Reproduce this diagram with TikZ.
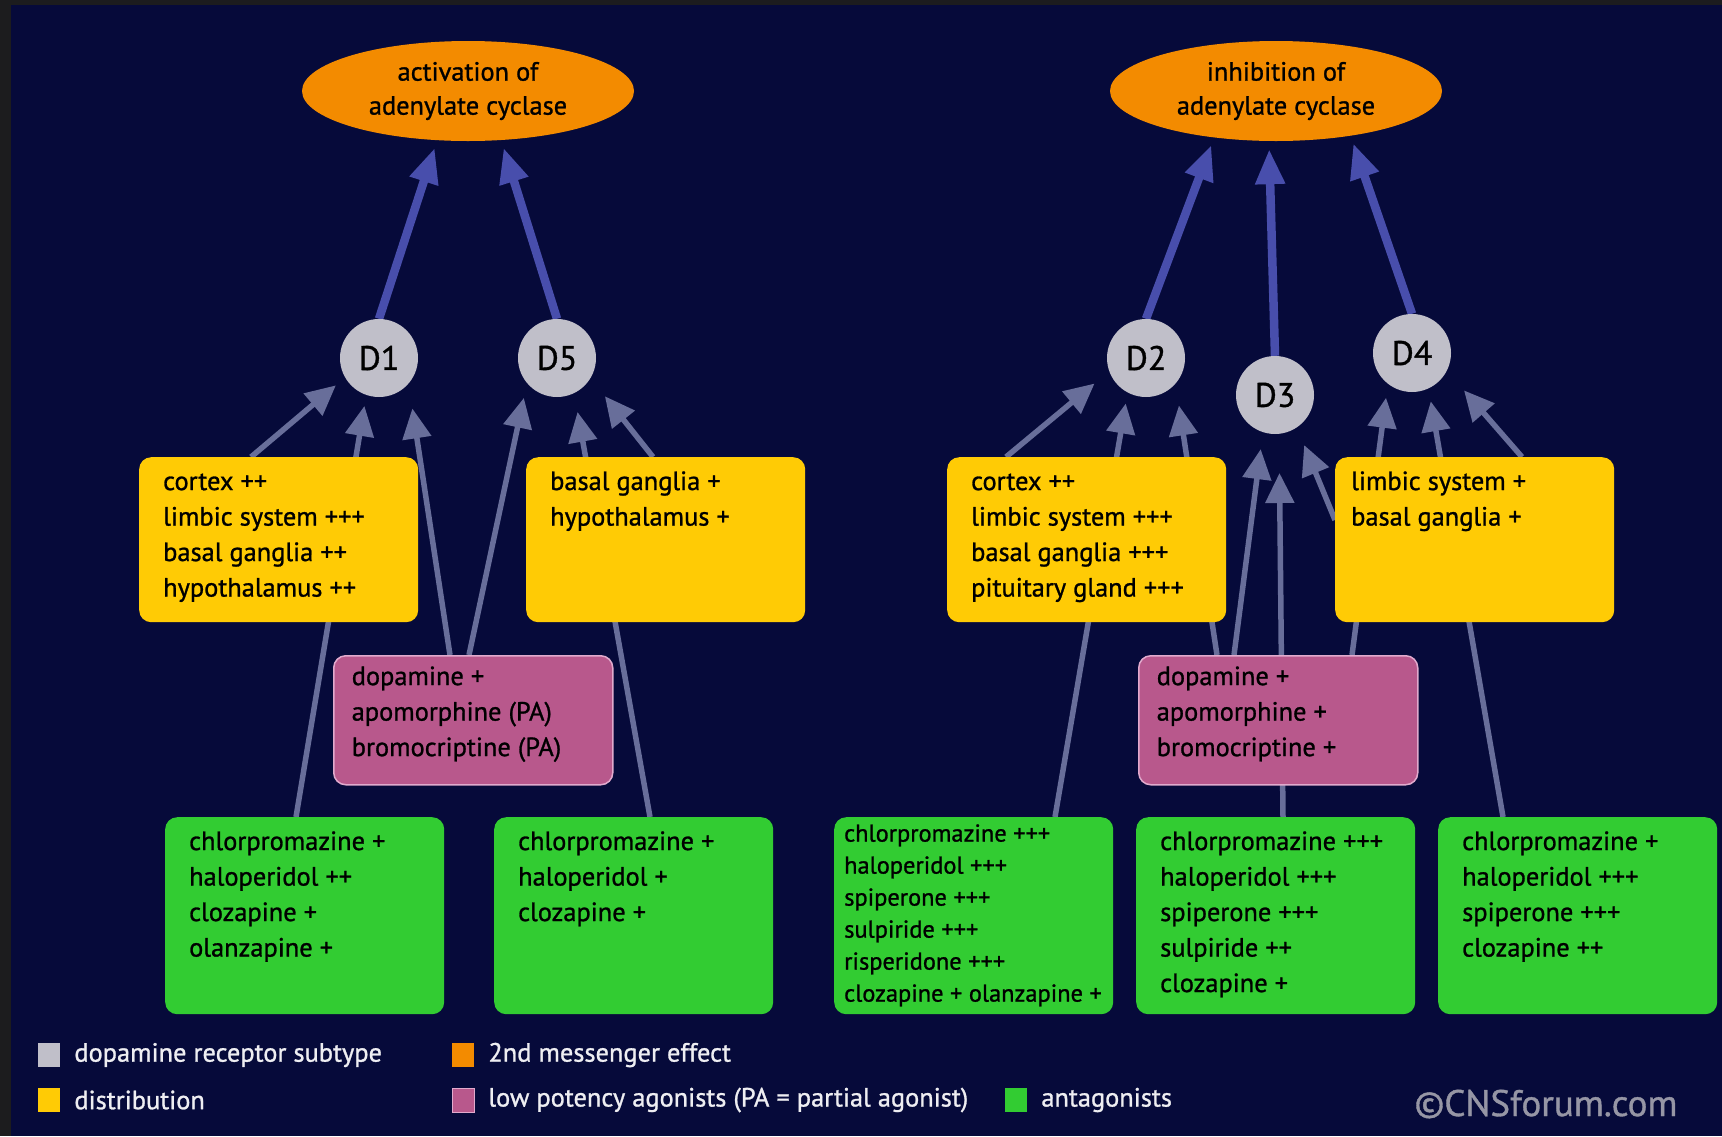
\documentclass[tikz,border=0pt]{standalone}
\usepackage{fontspec}
\setmainfont{PT Sans}[FakeBold=1]
\usetikzlibrary{arrows.meta,positioning,shapes.geometric,backgrounds}

\definecolor{framegray}{RGB}{28,28,30}
\definecolor{navybg}{RGB}{6,10,58}
\definecolor{effectorange}{RGB}{243,139,0}
\definecolor{receptorgray}{RGB}{192,191,201}
\definecolor{distyellow}{RGB}{255,203,5}
\definecolor{agonistpink}{RGB}{184,88,140}
\definecolor{agonistedge}{RGB}{225,170,205}
\definecolor{antagreen}{RGB}{50,204,50}
\definecolor{effectblue}{RGB}{72,78,172}
\definecolor{bindgray}{RGB}{104,110,154}
\definecolor{legendtext}{RGB}{238,238,242}
\definecolor{credgray}{RGB}{150,150,165}

\newcommand{\boxfont}{\fontsize{26.4}{35.5}\selectfont}
\newcommand{\densefont}{\fontsize{24.4}{32}\selectfont}

\tikzset{
  effect/.style={ellipse, fill=effectorange, minimum width=332pt, minimum height=100pt, inner sep=0pt, align=center, font=\fontsize{26.4}{34}\selectfont},
  receptor/.style={circle, fill=receptorgray, minimum size=78pt, inner sep=0pt, font=\fontsize{34}{40}\selectfont},
  panel/.style n args={3}{inner xsep=#1, execute at begin node={\begin{minipage}[t][#3][t]{#2}\strut}, execute at end node={\end{minipage}}},
  boxbase/.style={anchor=north west, rounded corners=12pt, inner ysep=8pt, font=\boxfont},
  distbox/.style={boxbase, fill=distyellow, panel={24pt}{231pt}{149pt}},
  distboxtight/.style={boxbase, fill=distyellow, panel={16pt}{247pt}{149pt}},
  agobox/.style={boxbase, fill=agonistpink, draw=agonistedge, line width=1.5pt, panel={18pt}{243pt}{120pt}, inner ysep=4.5pt},
  antbox/.style={boxbase, fill=antagreen, panel={24pt}{231pt}{181pt}},
  antboxdense/.style={boxbase, fill=antagreen, panel={10pt}{259pt}{193pt}, inner ysep=2pt, font=\densefont},
  effectarrow/.style={-{Triangle[length=35pt,width=28pt]}, line width=8.5pt, draw=effectblue, shorten >=8pt},
  bindarrow/.style={-{Triangle[length=30pt,width=28pt]}, line width=5.5pt, draw=bindgray},
  legkey/.style={minimum width=22pt, minimum height=24pt, inner sep=0pt},
  legtext/.style={text=legendtext, inner sep=0pt, font=\boxfont},
  credit/.style={text=credgray, inner sep=0pt, font=\fontsize{37}{40}\selectfont},
}

\begin{document}
\begin{tikzpicture}[x=1pt, y=-1pt]
  \useasboundingbox (0,0) rectangle (1722,1136);

  % second messenger effects
  \node[effect] (act) at (468,91) {activation of\\adenylate cyclase};
  \node[effect] (inh) at (1276,91) {inhibition of\\adenylate cyclase};

  % receptor subtypes
  \node[receptor] (d1) at (379,358) {D1};
  \node[receptor] (d5) at (557,358) {D5};
  \node[receptor] (d2) at (1146,358) {D2};
  \node[receptor] (d3) at (1275,395) {D3};
  \node[receptor] (d4) at (1412,353) {D4};

  % distribution
  \node[distbox] (dist1) at (139,457) {cortex ++\\limbic system +++\\basal ganglia ++\\hypothalamus ++};
  \node[distbox] (dist2) at (526,457) {basal ganglia +\\hypothalamus +};
  \node[distbox] (dist3) at (947,457) {cortex ++\\limbic system +++\\basal ganglia +++\\pituitary gland +++};
  \node[distboxtight] (dist4) at (1335,457) {limbic system +\\basal ganglia +};

  % agonists
  \node[agobox] (ago1) at (333,655) {dopamine +\\apomorphine (PA)\\bromocriptine (PA)};
  \node[agobox] (ago2) at (1138,655) {dopamine +\\apomorphine +\\bromocriptine +};

  % antagonists
  \node[antbox] (ant1) at (165,817) {chlorpromazine +\\haloperidol ++\\clozapine +\\olanzapine +};
  \node[antbox] (ant2) at (494,817) {chlorpromazine +\\haloperidol +\\clozapine +};
  \node[antboxdense] (ant3) at (834,817) {chlorpromazine +++\\haloperidol +++\\spiperone +++\\sulpiride +++\\risperidone +++\\clozapine + olanzapine +};
  \node[antbox] (ant4) at (1136,817) {chlorpromazine +++\\haloperidol +++\\spiperone +++\\sulpiride ++\\clozapine +};
  \node[antbox] (ant5) at (1438,817) {chlorpromazine +\\haloperidol +++\\spiperone +++\\clozapine ++};

  % legend
  \node[legkey, fill=receptorgray] (keyrec) at (49,1055) {};
  \node[legtext, right=14pt of keyrec] (labrec) {dopamine receptor subtype};
  \node[legkey, fill=effectorange] (keyeff) at (463,1055) {};
  \node[legtext, right=14pt of keyeff] (labeff) {2nd messenger effect};
  \node[legkey, fill=distyellow] (keydist) at (49,1100) {};
  \node[legtext, right=14pt of keydist] (labdist) {distribution};
  \node[legkey, fill=agonistpink, draw=agonistedge] (keyago) at (463,1100) {};
  \node[legtext, right=14pt of keyago] (labago) {low potency agonists (PA = partial agonist)};
  \node[legkey, fill=antagreen] (keyant) at (1016,1100) {};
  \node[legtext, right=14pt of keyant] (labant) {antagonists};
  \node[credit] (credit) at (1546,1104) {©CNSforum.com};

  \begin{scope}[on background layer]
    \fill[framegray] (0,0) rectangle (1722,1136);
    \fill[navybg] (11,5) rectangle (1722,1136);

    % receptor -> adenylate cyclase
    \draw[effectarrow] (d1.north) -- (act.238);
    \draw[effectarrow] (d5.north) -- (act.304);
    \draw[effectarrow] (d2.north) -- (inh.217);
    \draw[effectarrow] (d3.north) -- (inh.262);
    \draw[effectarrow] (d4.north) -- (inh.329);

    % D1 / D5
    \draw[bindarrow, shorten >=12pt] ([xshift=112pt]dist1.north west) -- (d1.210);
    \draw[bindarrow, shorten >=11pt] ([xshift=131pt]ant1.north west) -- (d1.251);
    \draw[bindarrow, shorten >=25pt] ([xshift=117pt]ago1.north west) -- (d1.319);
    \draw[bindarrow, shorten >=15pt] ([xshift=136pt]ago1.north west) -- (d5.220);
    \draw[bindarrow, shorten >=19pt] ([xshift=156pt]ant2.north west) -- (d5.296);
    \draw[bindarrow, shorten >=23pt] ([xshift=127pt]dist2.north west) -- (d5.329);

    % D2 / D3 / D4
    \draw[bindarrow, shorten >=19pt] ([xshift=59pt]dist3.north west) -- (d2.200);
    \draw[bindarrow, shorten >=11pt] ([xshift=221pt]ant3.north west) -- (d2.242);
    \draw[bindarrow, shorten >=22pt] ([xshift=79pt]ago2.north west) -- (d2.319);
    \draw[bindarrow, shorten >=17pt] ([xshift=96pt]ago2.north west) -- (d3.252);
    \draw[bindarrow, shorten >=39pt] ([xshift=147pt]ant4.north west) -- (d3.276);
    \draw[bindarrow, shorten >=19pt] ([yshift=-63pt]dist4.north west) -- (d3.304);
    \draw[bindarrow, shorten >=14pt] ([xshift=214pt]ago2.north west) -- (d4.232);
    \draw[bindarrow, shorten >=13pt] ([xshift=65pt]ant5.north west) -- (d4.295);
    \draw[bindarrow, shorten >=26pt] ([xshift=187pt]dist4.north west) -- (d4.333);
  \end{scope}
\end{tikzpicture}
\end{document}
